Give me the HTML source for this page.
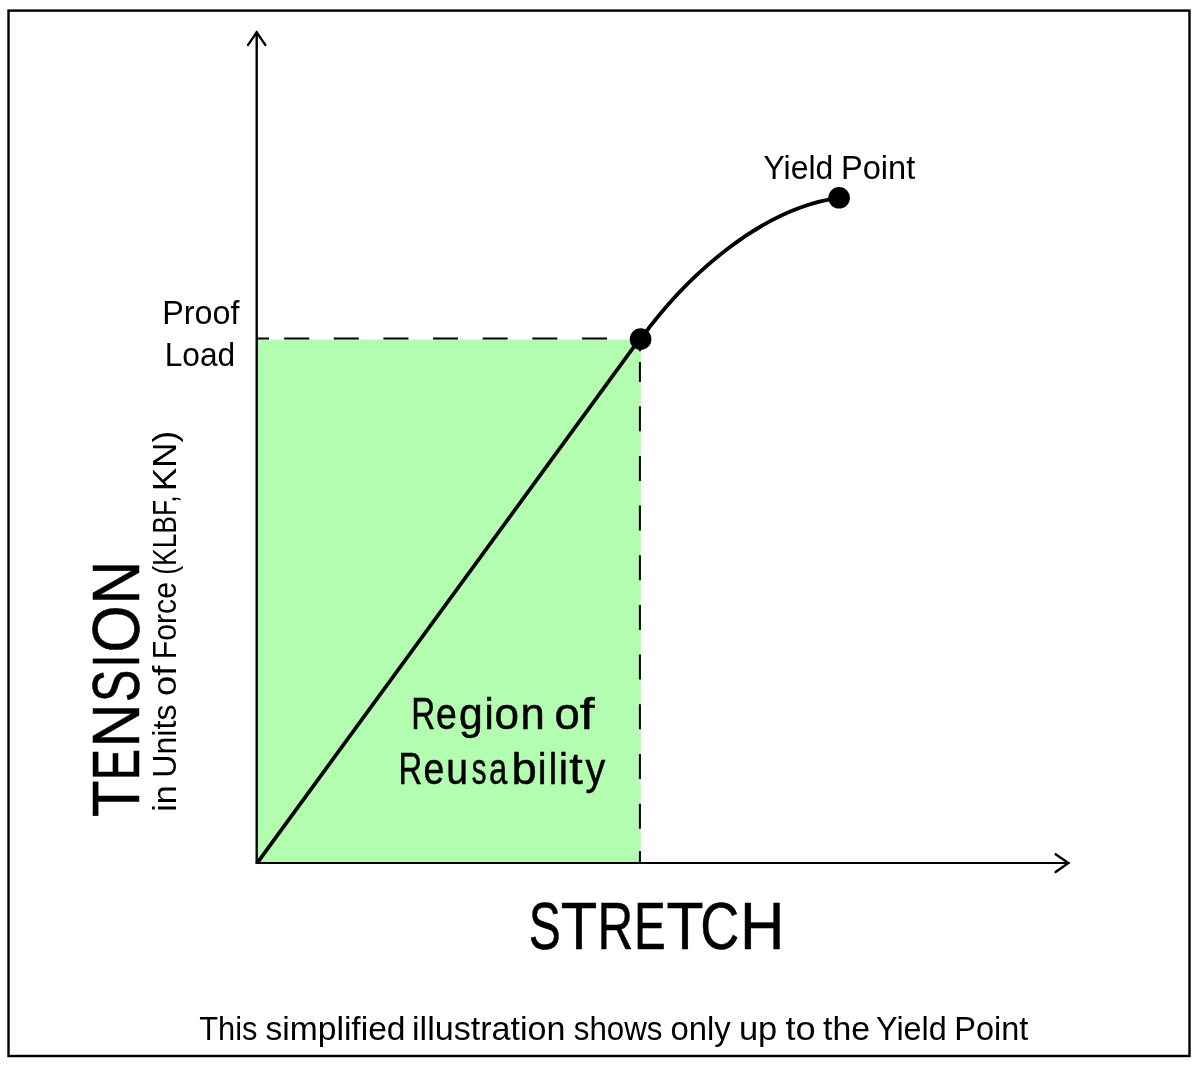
<!DOCTYPE html>
<html lang="en">
<head>
<meta charset="utf-8">
<title>Tension vs Stretch - Region of Reusability</title>
<style>
  html, body { margin: 0; padding: 0; background: #ffffff; }
  body { width: 1200px; height: 1068px; overflow: hidden; }
  svg { display: block; }
  text { font-family: "Liberation Sans", sans-serif; fill: #000000; }
</style>
</head>
<body>
<svg width="1200" height="1068" viewBox="0 0 1200 1068">
  <rect x="0" y="0" width="1200" height="1068" fill="#ffffff"/>

  <!-- outer frame -->
  <rect x="8.5" y="10.6" width="1181" height="1045.4" fill="none" stroke="#000" stroke-width="2.4"/>

  <!-- region of reusability (green) -->
  <rect x="256.6" y="339.5" width="384.3" height="523.5" fill="#b3fdb1"/>

  <!-- dashed guides -->
  <path d="M256.6 338.4H269 M284.2 338.4h25 M333.8 338.4h25 M383.4 338.4h25 M433 338.4h25 M482.6 338.4h25 M532.3 338.4h25 M582.1 338.4h25 M631.8 338.4h9"
        fill="none" stroke="#000" stroke-width="2"/>
  <path d="M639.9 339V351.2 M639.9 362V382 M639.9 406.2v25 M639.9 455.9v25 M639.9 505.6v25 M639.9 555.3v25 M639.9 605v25 M639.9 654.6v25 M639.9 704.3v25 M639.9 754v25 M639.9 803.7v25 M639.9 851V863"
        fill="none" stroke="#000" stroke-width="2"/>

  <!-- axes -->
  <path d="M256.7 863.2V31.5" fill="none" stroke="#000" stroke-width="2.4"/>
  <path d="M255.5 863.05H1069.5" fill="none" stroke="#000" stroke-width="2.1"/>
  <path d="M248.1 44.9L256.7 32.3L265.3 44.9" fill="none" stroke="#000" stroke-width="2.4" stroke-linecap="round" stroke-linejoin="miter"/>
  <path d="M1055.6 854.2L1068.4 863.1L1055.6 872.1" fill="none" stroke="#000" stroke-width="2.4" stroke-linecap="round" stroke-linejoin="miter"/>

  <!-- load curve -->
  <path d="M257.1 863.1L639.5 339.15" fill="none" stroke="#000" stroke-width="3.7"/>
  <path d="M640.6 339.15C686.44 275.61 761.74 207.97 839.1 197.8" fill="none" stroke="#000" stroke-width="3.8"/>
  <circle cx="640.6" cy="339.15" r="10.8" fill="#000"/>
  <circle cx="839.1" cy="197.8" r="10.8" fill="#000"/>

  <!-- labels -->
  <text id="t-yield" y="179.3" font-size="33.8"><tspan id="y0" x="763.5" textLength="69.75" lengthAdjust="spacingAndGlyphs">Yield</tspan> <tspan id="y1" x="841.0" textLength="74.25" lengthAdjust="spacingAndGlyphs">Point</tspan></text>
  <text id="t-proof" x="162.25" y="324.3" font-size="33.8" textLength="77.25" lengthAdjust="spacingAndGlyphs">Proof</text>
  <text id="t-load" x="164.75" y="365.65" font-size="33.8" textLength="70.5" lengthAdjust="spacingAndGlyphs">Load</text>
  <text id="t-region" aria-label="Region of" y="728.55" font-size="43.8" stroke="#000" stroke-width="0.5"><tspan id="g0" x="411.25" textLength="24.0" lengthAdjust="spacingAndGlyphs">R</tspan><tspan id="g1" x="436.0" textLength="20.75" lengthAdjust="spacingAndGlyphs">e</tspan><tspan id="g2" x="459.0" textLength="23.75" lengthAdjust="spacingAndGlyphs">g</tspan><tspan id="g3" x="484.5" textLength="9.25" lengthAdjust="spacingAndGlyphs">i</tspan><tspan id="g4" x="494.5" textLength="24.5" lengthAdjust="spacingAndGlyphs">o</tspan><tspan id="g5" x="520.5" textLength="24.25" lengthAdjust="spacingAndGlyphs">n</tspan> <tspan id="g6" x="554.5" textLength="25.25" lengthAdjust="spacingAndGlyphs">o</tspan><tspan id="g7" x="579.75" textLength="14.75" lengthAdjust="spacingAndGlyphs">f</tspan></text>
  <text id="t-reuse" aria-label="Reusability" y="783.55" font-size="43.8" stroke="#000" stroke-width="0.5"><tspan id="b0" x="398.5" textLength="23.75" lengthAdjust="spacingAndGlyphs">R</tspan><tspan id="b1" x="423.5" textLength="20.75" lengthAdjust="spacingAndGlyphs">e</tspan><tspan id="b2" x="446.25" textLength="21.75" lengthAdjust="spacingAndGlyphs">u</tspan><tspan id="b3" x="471.75" textLength="14.75" lengthAdjust="spacingAndGlyphs">s</tspan><tspan id="b4" x="489.0" textLength="18.25" lengthAdjust="spacingAndGlyphs">a</tspan><tspan id="b5" x="511.5" textLength="25.25" lengthAdjust="spacingAndGlyphs">b</tspan><tspan id="b6" x="537.75" textLength="8.75" lengthAdjust="spacingAndGlyphs">i</tspan><tspan id="b7" x="548.75" textLength="8.5" lengthAdjust="spacingAndGlyphs">l</tspan><tspan id="b8" x="558.75" textLength="9.25" lengthAdjust="spacingAndGlyphs">i</tspan><tspan id="b9" x="569.25" textLength="13.5" lengthAdjust="spacingAndGlyphs">t</tspan><tspan id="b10" x="585.5" textLength="19.75" lengthAdjust="spacingAndGlyphs">y</tspan></text>
  <text id="t-stretch" aria-label="STRETCH" y="948.85" font-size="66.3" stroke="#000" stroke-width="0.5"><tspan id="s0" x="528.75" textLength="32.0" lengthAdjust="spacingAndGlyphs">S</tspan><tspan id="s1" x="560.75" textLength="36.5" lengthAdjust="spacingAndGlyphs">T</tspan><tspan id="s2" x="597.5" textLength="35.75" lengthAdjust="spacingAndGlyphs">R</tspan><tspan id="s3" x="634.0" textLength="31.75" lengthAdjust="spacingAndGlyphs">E</tspan><tspan id="s4" x="666.5" textLength="37.0" lengthAdjust="spacingAndGlyphs">T</tspan><tspan id="s5" x="700.25" textLength="39.0" lengthAdjust="spacingAndGlyphs">C</tspan><tspan id="s6" x="740.0" textLength="44.5" lengthAdjust="spacingAndGlyphs">H</tspan></text>
  <text id="t-caption" y="1040.4" font-size="33.8"><tspan id="c0" x="199.25" textLength="58.25" lengthAdjust="spacingAndGlyphs">This</tspan> <tspan id="c1" x="265.5" textLength="140.0" lengthAdjust="spacingAndGlyphs">simplified</tspan> <tspan id="c2" x="412.0" textLength="153.5" lengthAdjust="spacingAndGlyphs">illustration</tspan> <tspan id="c3" x="573.75" textLength="88.75" lengthAdjust="spacingAndGlyphs">shows</tspan> <tspan id="c4" x="670.5" textLength="60.25" lengthAdjust="spacingAndGlyphs">only</tspan> <tspan id="c5" x="739.0" textLength="38.25" lengthAdjust="spacingAndGlyphs">up</tspan> <tspan id="c6" x="785.5" textLength="30.25" lengthAdjust="spacingAndGlyphs">to</tspan> <tspan id="c7" x="823.0" textLength="47.0" lengthAdjust="spacingAndGlyphs">the</tspan> <tspan id="c8" x="876.0" textLength="70.75" lengthAdjust="spacingAndGlyphs">Yield</tspan> <tspan id="c9" x="954.25" textLength="74.0" lengthAdjust="spacingAndGlyphs">Point</tspan></text>
  <text id="t-tension" aria-label="TENSION" transform="translate(138.9 0) rotate(-90)" y="0" font-size="66.3" stroke="#000" stroke-width="0.5"><tspan id="n0" x="-817.0" textLength="36.5" lengthAdjust="spacingAndGlyphs">T</tspan><tspan id="n1" x="-780.25" textLength="31.25" lengthAdjust="spacingAndGlyphs">E</tspan><tspan id="n2" x="-747.5" textLength="44.0" lengthAdjust="spacingAndGlyphs">N</tspan><tspan id="n3" x="-702.0" textLength="32.25" lengthAdjust="spacingAndGlyphs">S</tspan><tspan id="n4" x="-667.5" textLength="13.0" lengthAdjust="spacingAndGlyphs">I</tspan><tspan id="n5" x="-652.75" textLength="47.5" lengthAdjust="spacingAndGlyphs">O</tspan><tspan id="n6" x="-604.5" textLength="43.75" lengthAdjust="spacingAndGlyphs">N</tspan></text>
  <text id="t-units" transform="translate(176 0) rotate(-90)" y="0" font-size="33.9"><tspan id="u0" x="-811.75" textLength="26.5" lengthAdjust="spacingAndGlyphs">in</tspan> <tspan id="u1" x="-777.75" textLength="73.25" lengthAdjust="spacingAndGlyphs">Units</tspan> <tspan id="u2" x="-696.0" textLength="30.25" lengthAdjust="spacingAndGlyphs">of</tspan> <tspan id="u3" x="-659.25" textLength="77.25" lengthAdjust="spacingAndGlyphs">Force</tspan> <tspan id="u4" x="-574.75" textLength="79.25" lengthAdjust="spacingAndGlyphs">(KLBF,</tspan> <tspan id="u5" x="-491.0" textLength="60.0" lengthAdjust="spacingAndGlyphs">KN)</tspan></text>
</svg>
</body>
</html>
